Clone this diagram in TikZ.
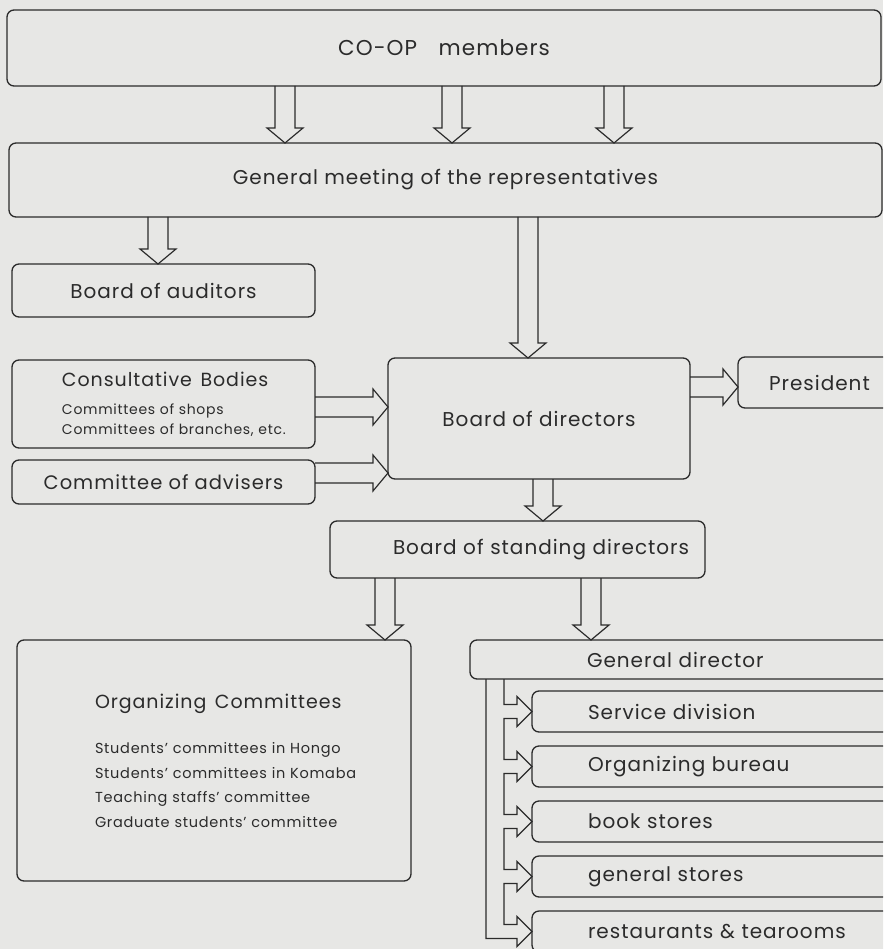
\documentclass[tikz,border=0pt]{standalone}
\usepackage{fontspec}
\setmainfont{Poppins}[LetterSpace=5.0]
\usepackage{tikz}
\usetikzlibrary{positioning, calc}
\definecolor{paper}{HTML}{E7E7E5}
\definecolor{ink}{HTML}{2B2B2B}

% hollow arrow straight down from #1 to the top of node #2
\newcommand{\downconn}[2]{%
  \draw[conn] let \p1=(#1), \p2=(#2.north) in
    (\x1-10pt,\y1) -- (\x1-10pt,\y2+15pt) -- (\x1-18pt,\y2+15pt) -- (\x1,\y2)
    -- (\x1+18pt,\y2+15pt) -- (\x1+10pt,\y2+15pt) -- (\x1+10pt,\y1);}
% hollow arrow straight right from #1 to the left side of node #2
\newcommand{\rightconn}[2]{%
  \draw[conn] let \p1=(#1), \p2=(#2.west) in
    (\x1,\y1+10pt) -- (\x2-15pt,\y1+10pt) -- (\x2-15pt,\y1+18pt) -- (\x2,\y1)
    -- (\x2-15pt,\y1-18pt) -- (\x2-15pt,\y1-10pt) -- (\x1,\y1-10pt);}

\begin{document}
\begin{tikzpicture}[
    box/.style={
        draw=ink, line width=1.3pt, fill=paper, text=ink,
        rectangle, rounded corners=7pt,
        inner sep=0pt, outer sep=0pt, align=center,
        font=\fontsize{20}{24}\selectfont,
    },
    lbox/.style={box, align=left},
    indent/.style={execute at begin node={\leftskip=#1}},
    conn/.style={draw=ink, line width=1.2pt},
]
\fill[paper] (0,0) rectangle (883pt,-949pt);
\useasboundingbox (0,0) rectangle (883pt,-949pt);
\clip (0,0) rectangle (883pt,-949pt);

% Members and meeting
\node[box, minimum width=874pt, minimum height=76pt, anchor=north west,
      font=\fontsize{21.5}{25}\selectfont] (coop) at (7pt,-10pt) {CO-OP\quad members};
\node[box, minimum width=873pt, minimum height=74pt, below=57pt of coop.south west,
      anchor=north west, xshift=2pt] (gm) {General meeting of the representatives};

% Left column
\node[box, minimum width=303pt, minimum height=53pt, below=47pt of gm.south west,
      anchor=north west, xshift=3pt] (aud) {Board of auditors};
\node[lbox, text width=303pt, minimum height=88pt, indent=50pt, below=43pt of aud.south west,
      anchor=north west, font=\fontsize{14}{20}\selectfont] (cons)
      {{\fontsize{19}{23}\selectfont Consultative\hspace{0.45em}Bodies}\\[8pt]
       Committees of shops\\
       Committees of branches, etc.};
\node[box, minimum width=303pt, minimum height=44pt, below=12pt of cons.south west,
      anchor=north west, font=\fontsize{19.5}{24}\selectfont] (adv) {Committee of advisers};

% Directors
\node[box, minimum width=302pt, minimum height=121pt, right=73pt of cons.north east,
      anchor=north west, yshift=2pt] (bod) {Board of directors};
\node[lbox, text width=180pt, minimum height=51pt, indent=31pt, right=48pt of bod.north east,
      anchor=north west, yshift=1pt] (pres) {President};
\node[lbox, text width=375pt, minimum height=57pt, indent=63pt, below=42pt of bod.south west,
      anchor=north west, xshift=-58pt] (bsd) {Board of standing directors};

% Committees
\node[lbox, text width=394pt, minimum height=241pt, indent=78pt, below=136pt of adv.south west,
      anchor=north west, xshift=5pt, font=\fontsize{14.5}{24.5}\selectfont] (org)
      {{\fontsize{19}{23}\selectfont Organizing\hspace{0.45em}Committees}\\[21pt]
       Students' committees in Hongo\\
       Students' committees in Komaba\\
       Teaching staffs' committee\\
       Graduate students' committee};

% General director and divisions
\node[lbox, text width=430pt, minimum height=39pt, indent=117pt, below=62pt of bsd.south west,
      anchor=north west, xshift=140pt] (gd) {General director};
\node[lbox, text width=370pt, minimum height=41pt, indent=56pt, below=12pt of gd.south west,
      anchor=north west, xshift=62pt] (serv) {Service division};
\node[lbox, text width=370pt, minimum height=41pt, indent=56pt, below=14pt of serv.south west,
      anchor=north west] (bur) {Organizing bureau};
\node[lbox, text width=370pt, minimum height=41pt, indent=56pt, below=14pt of bur.south west,
      anchor=north west] (book) {book stores};
\node[lbox, text width=370pt, minimum height=41pt, indent=56pt, below=14pt of book.south west,
      anchor=north west] (gen) {general stores};
\node[lbox, text width=370pt, minimum height=41pt, indent=56pt, below=14pt of gen.south west,
      anchor=north west] (rest) {restaurants \& tearooms};

% Connectors
\downconn{[xshift=-159pt]coop.south}{gm}
\downconn{[xshift=8pt]coop.south}{gm}
\downconn{[xshift=170pt]coop.south}{gm}
\downconn{[xshift=149pt]gm.south west}{aud}
\downconn{[xshift=519pt]gm.south west}{bod}
\rightconn{[yshift=-3pt]cons.east}{bod}
\rightconn{[yshift=9pt]adv.east}{bod}
\rightconn{[yshift=-29pt]bod.north east}{pres}
\downconn{[xshift=155pt]bod.south west}{bsd}
\downconn{[xshift=55pt]bsd.south west}{org}
\downconn{[xshift=261pt]bsd.south west}{gd}

% bus from the general director
\draw[conn] ([xshift=34pt]gd.south west)
  |- ([xshift=-28pt,yshift=7pt]serv.west) -- ++(13pt,0) -- ++(0,8pt) -- (serv.west)
     -- ++(-15pt,-15pt) -- ++(0,8pt) -- ++(-13pt,0)
  |- ([xshift=-28pt,yshift=7pt]bur.west) -- ++(13pt,0) -- ++(0,8pt) -- (bur.west)
     -- ++(-15pt,-15pt) -- ++(0,8pt) -- ++(-13pt,0)
  |- ([xshift=-28pt,yshift=7pt]book.west) -- ++(13pt,0) -- ++(0,8pt) -- (book.west)
     -- ++(-15pt,-15pt) -- ++(0,8pt) -- ++(-13pt,0)
  |- ([xshift=-28pt,yshift=7pt]gen.west) -- ++(13pt,0) -- ++(0,8pt) -- (gen.west)
     -- ++(-15pt,-15pt) -- ++(0,8pt) -- ++(-13pt,0)
  |- ([xshift=-28pt,yshift=7pt]rest.west) -- ++(13pt,0) -- ++(0,8pt) -- (rest.west)
     -- ++(-15pt,-15pt) -- ++(0,8pt) -- ([xshift=-46pt,yshift=-7pt]rest.west)
  |- ([xshift=16pt]gd.south west);

\end{tikzpicture}
\end{document}
